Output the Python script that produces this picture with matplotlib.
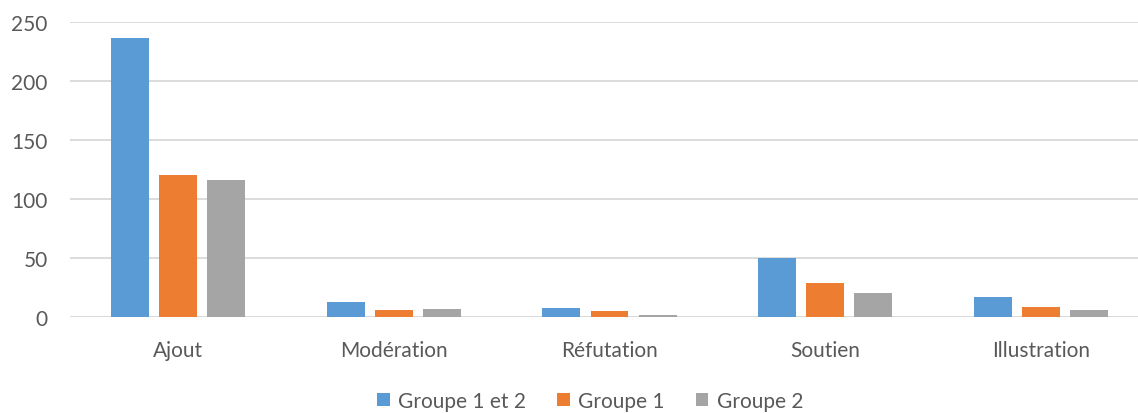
import matplotlib.pyplot as plt
import numpy as np

categories = ['Ajout', 'Modération', 'Réfutation', 'Soutien', 'Illustration']
series_names = ['Groupe 1 et 2', 'Groupe 1', 'Groupe 2']
groupe_1_2 = [237, 13, 8, 50, 17]
groupe_1 = [121, 6, 5, 29, 9]
groupe_2 = [116, 7, 2, 21, 6]
y_ticks = [0, 50, 100, 150, 200, 250]

colors = ['#5B9BD5', '#ED7D31', '#A5A5A5']
text_color = '#595959'
plt.rcParams['font.family'] = ['Lato', 'DejaVu Sans']

fig = plt.figure(figsize=(11.38, 4.14), dpi=100)
ax = fig.add_axes([70 / 1138, 95.7 / 414, 1079 / 1138, 295 / 414])

x = np.arange(len(categories))
step = 0.2225
width = 0.176
for i, (name, vals) in enumerate(zip(series_names, [groupe_1_2, groupe_1, groupe_2])):
    ax.bar(x + (i - 1) * step, vals, width, color=colors[i], label=name, zorder=3)

ax.set_xlim(-0.5, len(categories) - 0.5)
ax.set_ylim(0, 250)
ax.set_yticks(y_ticks)
ax.set_xticks(x)
ax.set_xticklabels(categories)
ax.grid(axis='y', color='#D9D9D9', linewidth=1.3, zorder=0)
ax.tick_params(axis='both', length=0, colors=text_color, labelsize=15)
ax.tick_params(axis='x', pad=16)
ax.tick_params(axis='y', pad=16)
for s in ax.spines.values():
    s.set_visible(False)
ax.axhline(0, color='#D9D9D9', linewidth=1.3, zorder=2)

leg = fig.legend(loc='center', bbox_to_anchor=(590 / 1138, 1 - 402 / 414), ncol=3,
                 frameon=False, fontsize=15, handlelength=0.6, handleheight=0.6,
                 handletextpad=0.4, columnspacing=1.5, labelcolor=text_color)

fig.savefig('out.png', dpi=100)
